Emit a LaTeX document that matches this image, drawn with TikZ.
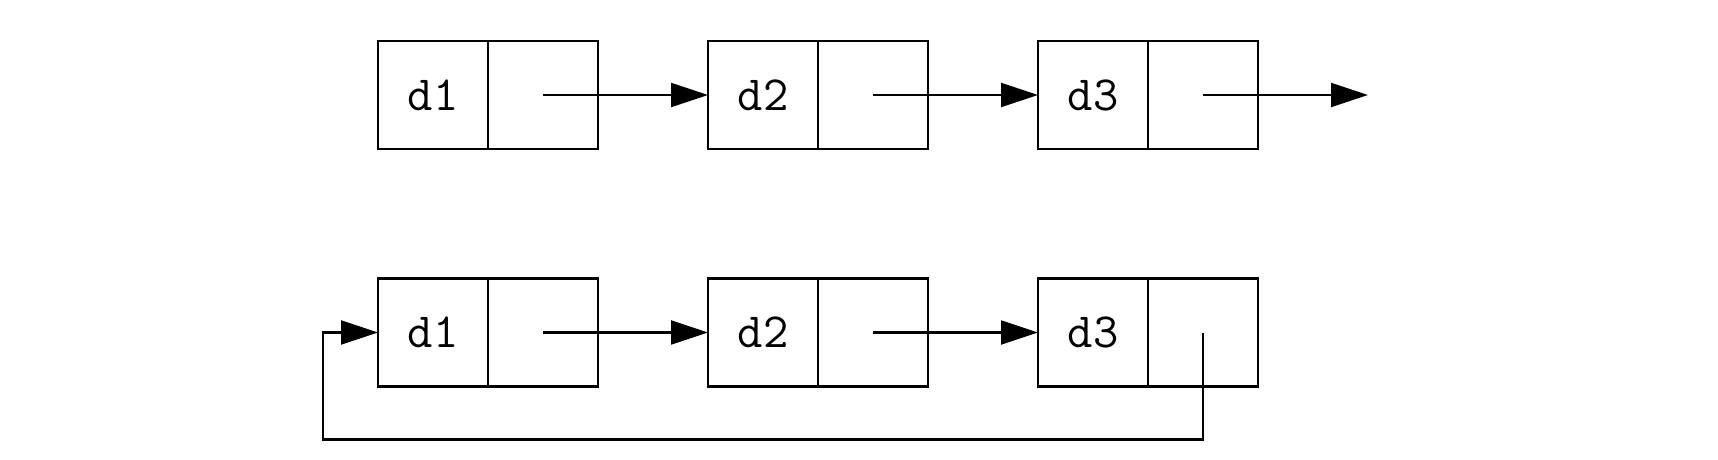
\documentclass[tikz,border=0pt]{standalone}
\usetikzlibrary{positioning,arrows.meta}
\begin{document}
\begin{tikzpicture}[>={Triangle[length=0.37cm,width=0.24cm]}, line width=0.6pt, line join=miter,
    cell/.style={draw, rectangle, minimum width=1.1cm, minimum height=1.08cm, outer sep=0pt, inner sep=0pt, font=\ttfamily\fontsize{14}{16}\selectfont},
    node distance=0pt]
        \useasboundingbox (0,0) rectangle (17.18,-4.59);
        % first list: ends with a null pointer
        \node[cell] (a1) at (4.33,-0.95) {d1};
        \node[cell, right=of a1] (a1p) {};
        \node[cell, right=1.1cm of a1p] (a2) {d2};
        \node[cell, right=of a2] (a2p) {};
        \node[cell, right=1.1cm of a2p] (a3) {d3};
        \node[cell, right=of a3] (a3p) {};
        \coordinate[right=1.1cm of a3p] (null);
        \draw[->] (a1p.center) -- (a2.west);
        \draw[->] (a2p.center) -- (a3.west);
        \draw[->] (a3p.center) -- (null);
        % second list: circular
        \node[cell] (b1) at (4.33,-3.325) {d1};
        \node[cell, right=of b1] (b1p) {};
        \node[cell, right=1.1cm of b1p] (b2) {d2};
        \node[cell, right=of b2] (b2p) {};
        \node[cell, right=1.1cm of b2p] (b3) {d3};
        \node[cell, right=of b3] (b3p) {};
        \draw[->] (b1p.center) -- (b2.west);
        \draw[->] (b2p.center) -- (b3.west);
        \draw[->] (b3p.center) -- ++(0,-1.07) -| ([xshift=-0.55cm]b1.west) -- (b1.west);
    \end{tikzpicture}
\end{document}
